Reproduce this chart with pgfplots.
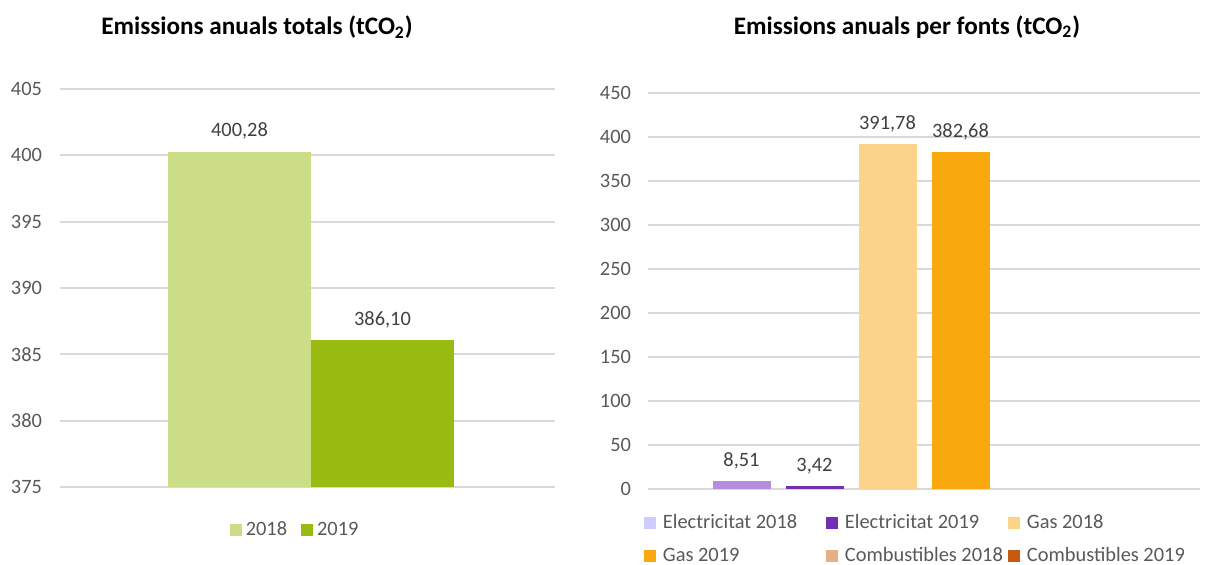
\documentclass[border=0pt]{standalone}
\usepackage{pgfplots}
\pgfplotsset{compat=1.18}
\usepackage{fontspec}
\setmainfont{Carlito}

\definecolor{gridgray}{HTML}{D9D9D9}
\definecolor{ticktext}{HTML}{595959}
\definecolor{labeltext}{HTML}{404040}
\definecolor{verd18}{HTML}{CCDD88}
\definecolor{verd19}{HTML}{99BB11}
\definecolor{elec18}{HTML}{B48EDC}
\definecolor{elec18leg}{HTML}{CCCCFF}
\definecolor{elec19}{HTML}{7030B0}
\definecolor{gas18}{HTML}{FBD389}
\definecolor{gas19}{HTML}{F9A80D}
\definecolor{comb18}{HTML}{E6AF86}
\definecolor{comb19}{HTML}{C65B10}

\pgfplotsset{
  sq/.style={legend image code/.code={\fill[##1, draw=none] (0pt,-3pt) rectangle (6pt,3pt);}},
  excelbar/.style={
    scale only axis,
    axis line style={draw=none},
    major tick length=0pt,
    xtick=\empty,
    ymajorgrids,
    grid style={draw=gridgray, line width=1pt},
    tick label style={font=\fontsize{10.2}{12}\selectfont, text=ticktext},
    /pgf/number format/assume math mode=true,
    /pgf/number format/1000 sep={},
    nodes near coords style={font=\fontsize{10.2}{12}\selectfont, text=labeltext, yshift=2.5pt,
      /pgf/number format/fixed, /pgf/number format/fixed zerofill,
      /pgf/number format/precision=2, /pgf/number format/use comma,
      /pgf/number format/1000 sep={}},
    legend style={draw=none, font=\fontsize{10.2}{12}\selectfont, text=ticktext},
    legend cell align=left,
  },
}

\begin{document}
\begin{tikzpicture}
\path[use as bounding box] (0,0) rectangle (606pt,282.5pt);

% titles
\node[font=\fontsize{12.6}{15}\selectfont\bfseries] at (128.5pt,269pt) {Emissions anuals totals (tCO\textsubscript{2})};
\node[font=\fontsize{12.6}{15}\selectfont\bfseries] at (453.5pt,269pt) {Emissions anuals per fonts (tCO\textsubscript{2})};

% left chart
\begin{axis}[
  excelbar,
  ybar=0pt, sq,
  at={(30pt,39pt)}, anchor=south west,
  width=247.5pt, height=199pt,
  xmin=-1, xmax=0.972,
  ymin=375, ymax=405, ytick={375,380,...,405},
  bar width=71.5pt,
  yticklabel style={xshift=-5.5pt},
  nodes near coords,
  legend columns=2,
  legend style={at={(0.477,-0.108)}, anchor=center,
    /tikz/every even column/.append style={column sep=5pt}},
]
\addplot[fill=verd18, draw=none] coordinates {(0,400.28)};
\addlegendentry{2018}
\addplot[fill=verd19, draw=none] coordinates {(0,386.10)};
\addlegendentry{2019}
\end{axis}

% right chart
\begin{axis}[
  excelbar,
  ybar=7.5pt, sq,
  at={(324pt,38pt)}, anchor=south west,
  width=276pt, height=198pt,
  xmin=-1, xmax=1,
  ymin=0, ymax=450, ytick={0,50,...,450},
  bar width=29pt,
  yticklabel style={xshift=-5pt},
  legend columns=3,
  legend style={at={(-0.019,-0.043)}, anchor=north west,
    /tikz/every odd column/.append style={column sep=1.5pt},
    /tikz/every even column/.append style={column sep=0pt},
    /tikz/every odd row/.append style={row sep=4pt}},
]
\addplot[fill=elec18, draw=none, nodes near coords,
  legend image code/.code={\fill[elec18leg] (0pt,-3pt) rectangle (6pt,3pt);}]
  coordinates {(0,8.51)};
\addlegendentry{\makebox[79.5pt][l]{Electricitat 2018}}
\addplot[fill=elec19, draw=none, nodes near coords] coordinates {(0,3.42)};
\addlegendentry{\makebox[79.5pt][l]{Electricitat 2019}}
\addplot[fill=gas18, draw=none, nodes near coords] coordinates {(0,391.78)};
\addlegendentry{\makebox[79.5pt][l]{Gas 2018}}
\addplot[fill=gas19, draw=none, nodes near coords] coordinates {(0,382.68)};
\addlegendentry{\makebox[79.5pt][l]{Gas 2019}}
\addplot[fill=none, draw=none,
  legend image code/.code={\fill[comb18] (0pt,-3pt) rectangle (6pt,3pt);}]
  coordinates {(0,0)};
\addlegendentry{\makebox[79.5pt][l]{Combustibles 2018}}
\addplot[fill=none, draw=none,
  legend image code/.code={\fill[comb19] (0pt,-3pt) rectangle (6pt,3pt);}]
  coordinates {(0,0)};
\addlegendentry{\makebox[79.5pt][l]{Combustibles 2019}}
\end{axis}
\end{tikzpicture}
\end{document}
